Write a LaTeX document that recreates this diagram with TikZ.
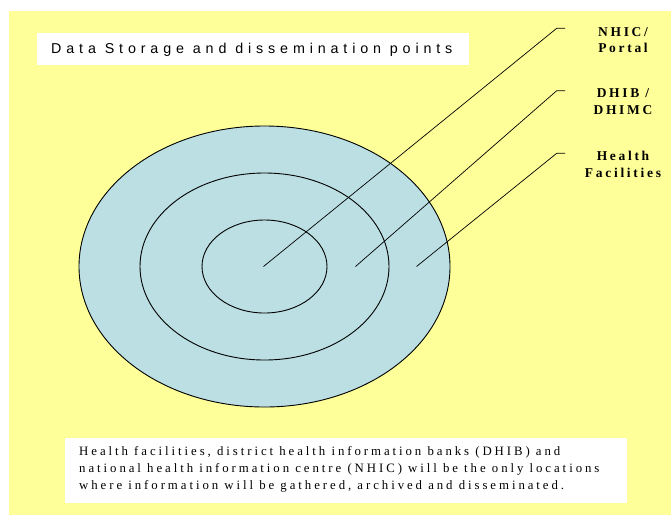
\documentclass[tikz,border=0pt]{standalone}
\usepackage{fontspec}
\setmainfont{Liberation Serif}
\newfontfamily\titlefont[LetterSpace=34]{Liberation Sans}
\newfontfamily\notefont[LetterSpace=23]{Liberation Serif}
\newfontfamily\tagfont[LetterSpace=20]{Liberation Serif}
\definecolor{pageyellow}{RGB}{255,255,153}
\definecolor{ringblue}{RGB}{187,223,227}
\tikzset{
  ring/.style={draw=black, line width=0.9pt},
  leader/.style={draw=black, line width=0.7pt},
  tag/.style={font=\tagfont\bfseries\fontsize{13.5}{16.5}\selectfont, align=center, inner sep=0pt},
  whitebox/.style={fill=white, draw=none}
}
\begin{document}
\begin{tikzpicture}[x=1pt, y=-1pt]
  \useasboundingbox (0,0) rectangle (671,515);
  \fill[white] (0,0) rectangle (671,515);
  \fill[pageyellow] (9,11) rectangle (671,515);

  % title panel
  \fill[white] (37,33) rectangle (469,65);
  \node[anchor=base west, inner sep=0pt, font=\titlefont\fontsize{14.3}{16}\selectfont] (title) at (51,53.3)
    {Data Storage and dissemination points};

  % concentric storage rings
  \fill[ringblue, ring] (264.5,266.5) ellipse [x radius=185.5, y radius=140.5];
  \draw[ring] (264.5,266.5) ellipse [x radius=124.5, y radius=93.5];
  \draw[ring] (264.5,266.5) ellipse [x radius=62.5, y radius=46.5];

  % leader start points inside each ring
  \coordinate (pNHIC) at (263.5,266.5);
  \coordinate (pDHIB) at (355.5,266.5);
  \coordinate (pHF) at (416.5,266.5);

  % labels
  \node[tag] (lNHIC) at (623,40) {NHIC/\\Portal};
  \node[tag] (lDHIB) at (623,101.5) {DHIB /\\DHIMC};
  \node[tag] (lHF) at (623,164.5) {Health\\Facilities};

  \coordinate (kNHIC) at (556.7,28.3);
  \coordinate (kDHIB) at (556.7,90.7);
  \coordinate (kHF) at (556.7,153.3);
  \coordinate (eNHIC) at (565,28.3);
  \coordinate (eDHIB) at (565,90.7);
  \coordinate (eHF) at (565,153.3);

  \draw[leader] (pNHIC) -- (kNHIC) -- (eNHIC);
  \draw[leader] (pDHIB) -- (kDHIB) -- (eDHIB);
  \draw[leader] (pHF) -- (kHF) -- (eHF);

  % explanatory note (node base is the last line's baseline)
  \fill[white] (65,438) rectangle (627,503);
  \node[anchor=base west, inner sep=0pt, align=left, font=\notefont\fontsize{12.8}{17}\selectfont] (note) at (79,489)
    {Health facilities, district health information banks (DHIB) and\\
     national health information centre (NHIC) will be the only locations\\
     where information will be gathered, archived and disseminated.};
\end{tikzpicture}
\end{document}
